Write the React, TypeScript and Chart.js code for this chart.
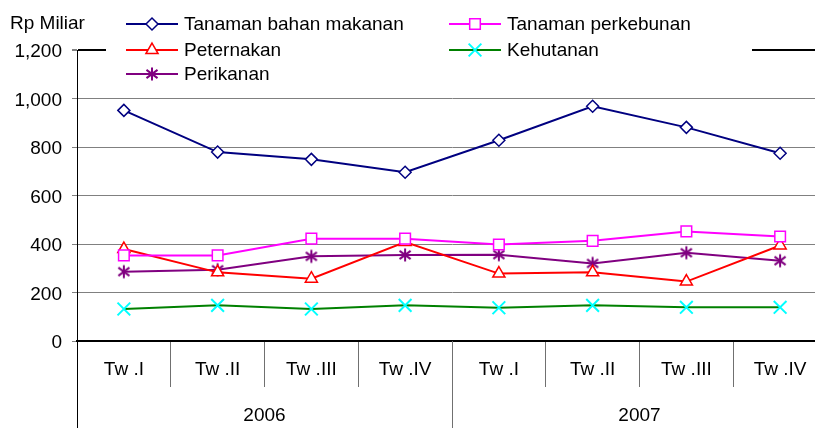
import React, { useEffect, useRef } from 'react';
import { Chart, registerables } from 'chart.js';
import { drawPoint } from 'chart.js/helpers';

Chart.register(...registerables);

// ---------- data ----------
const categories = ['Tw .I', 'Tw .II', 'Tw .III', 'Tw .IV', 'Tw .I', 'Tw .II', 'Tw .III', 'Tw .IV'];
const years = ['2006', '2007'];
const quartersPerYear = 4;
const yTitle = 'Rp Miliar';
const yMin = 0;
const yMax = 1200;
const yStep = 200;

const seriesNames = ['Tanaman bahan makanan', 'Tanaman perkebunan', 'Peternakan', 'Kehutanan', 'Perikanan'];
const tanamanBahanMakanan = [951, 779, 749, 696, 828, 968, 881, 774];
const tanamanPerkebunan = [353, 353, 422, 422, 398, 413, 452, 431];
const peternakan = [379, 283, 257, 408, 278, 283, 245, 394];
const kehutanan = [132, 147, 132, 147, 137, 147, 139, 139];
const perikanan = [286, 294, 349, 355, 356, 320, 364, 331];

const FONT = '"Liberation Sans", Arial, sans-serif';
const CANVAS_W = 838;

// asterisk marker (vertical stroke + X), like the spreadsheet "star" marker
function makeAsterisk(color: string): HTMLCanvasElement {
  const s = 16;
  const c = document.createElement('canvas');
  c.width = s;
  c.height = s;
  const g = c.getContext('2d')!;
  g.strokeStyle = color;
  g.lineWidth = 2;
  g.lineCap = 'butt';
  const m = s / 2;
  const r = 6.5;
  g.beginPath();
  g.moveTo(m, m - r);
  g.lineTo(m, m + r);
  const d = r * 0.85;
  g.moveTo(m - d, m - d * 0.75);
  g.lineTo(m + d, m + d * 0.75);
  g.moveTo(m + d, m - d * 0.75);
  g.lineTo(m - d, m + d * 0.75);
  g.stroke();
  return c;
}

const decorPlugin = {
  id: 'decor',
  afterDraw(chart: any) {
    const ctx = chart.ctx;
    const area = chart.chartArea;
    const xs = chart.scales.x;
    ctx.save();

    // y title
    ctx.fillStyle = '#000';
    ctx.font = `19px ${FONT}`;
    ctx.textBaseline = 'middle';
    ctx.textAlign = 'left';
    ctx.fillText(yTitle, 10, 24);

    // legend (white box over the top gridline)
    ctx.fillStyle = '#fff';
    ctx.fillRect(106, 0, 646, 88);
    const colX = [126, 449];
    const rowY = [24, 50, 74];
    chart.data.datasets.forEach((ds: any, i: number) => {
      const col = i % 2;
      const row = Math.floor(i / 2);
      const x0 = colX[col];
      const y = rowY[row];
      ctx.strokeStyle = ds.borderColor;
      ctx.lineWidth = ds.borderWidth;
      ctx.beginPath();
      ctx.moveTo(x0, y);
      ctx.lineTo(x0 + 52, y);
      ctx.stroke();
      ctx.strokeStyle = ds.pointBorderColor || ds.borderColor;
      ctx.fillStyle = '#fff';
      ctx.lineWidth = ds.pointBorderWidth;
      drawPoint(ctx, { pointStyle: ds.pointStyle, radius: ds.pointRadius, borderWidth: ds.pointBorderWidth, rotation: 0 }, x0 + 26, y);
      ctx.fillStyle = '#000';
      ctx.font = `19px ${FONT}`;
      ctx.textAlign = 'left';
      ctx.textBaseline = 'middle';
      ctx.fillText(ds.label, x0 + 58, y + 1);
    });

    // year grouping
    const bottom = chart.height;
    const bounds: number[] = [];
    for (let g = 0; g <= years.length; g++) {
      const idx = g * quartersPerYear;
      let px: number;
      if (idx === 0) px = area.left;
      else if (idx >= categories.length) px = area.right;
      else px = (xs.getPixelForValue(idx - 1) + xs.getPixelForValue(idx)) / 2;
      bounds.push(px);
    }
    bounds.forEach((px, g) => {
      ctx.strokeStyle = g === 0 ? '#000' : '#707070';
      ctx.lineWidth = 1;
      ctx.beginPath();
      const x = Math.round(px) + 0.5;
      ctx.moveTo(x, area.bottom);
      ctx.lineTo(x, bottom);
      ctx.stroke();
    });
    ctx.fillStyle = '#000';
    ctx.font = `19px ${FONT}`;
    ctx.textAlign = 'center';
    ctx.textBaseline = 'middle';
    years.forEach((yr, g) => {
      ctx.fillText(yr, (bounds[g] + bounds[g + 1]) / 2, 416);
    });
    ctx.restore();
  },
};

export default function App() {
  const ref = useRef<HTMLCanvasElement | null>(null);
  useEffect(() => {
    document.body.style.margin = '0';
    document.body.style.overflow = 'hidden';
    const canvas = ref.current!;
    const mk = (label: string, data: number[], color: string, style: any, radius: number, pointColor?: string, pbw = 1.5) => ({
      label,
      data,
      borderColor: color,
      backgroundColor: '#fff',
      pointBorderColor: pointColor || color,
      pointBackgroundColor: '#fff',
      pointStyle: style,
      pointRadius: radius,
      pointBorderWidth: pbw,
      borderWidth: 2,
      tension: 0,
      fill: false,
    });
    const chart = new Chart(canvas, {
      type: 'line',
      data: {
        labels: categories,
        datasets: [
          mk(seriesNames[0], tanamanBahanMakanan, '#000080', 'rectRot', 6),
          mk(seriesNames[1], tanamanPerkebunan, '#FF00FF', 'rect', 7.5),
          mk(seriesNames[2], peternakan, '#FF0000', 'triangle', 7),
          mk(seriesNames[3], kehutanan, '#008000', 'crossRot', 9, '#00FFFF', 2),
          mk(seriesNames[4], perikanan, '#800080', makeAsterisk('#800080'), 7, undefined, 2),
        ] as any,
      },
      options: {
        responsive: false,
        animation: false,
        layout: { padding: { top: 50, left: 0, right: 0, bottom: 0 } },
        plugins: { legend: { display: false }, tooltip: { enabled: false } },
        scales: {
          x: {
            type: 'category',
            offset: true,
            grid: { offset: true, drawOnChartArea: false, tickLength: 46, color: '#707070', lineWidth: 1 },
            border: { color: '#000', width: 2 },
            ticks: { color: '#000', font: { size: 19, family: FONT }, padding: -29, maxRotation: 0, autoSkip: false },
            afterFit: (s: any) => { s.height = 87; },
          },
          y: {
            min: yMin,
            max: yMax,
            ticks: { stepSize: yStep, color: '#000', font: { size: 19, family: FONT }, padding: 10, labelOffset: 2 },
            grid: {
              color: (c: any) => (c.tick && c.tick.value === yMax ? '#000' : '#808080'),
              lineWidth: (c: any) => (c.tick && c.tick.value === yMax ? 2 : 1),
              tickLength: 5,
              tickColor: '#808080',
            },
            border: { color: '#000', width: 1 },
            afterFit: (s: any) => { s.width = 77; },
          },
        },
      } as any,
      plugins: [decorPlugin],
    });
    return () => chart.destroy();
  }, []);
  return (
    <div style={{ position: 'fixed', left: 0, top: 0, width: CANVAS_W, height: 428, background: '#fff' }}>
      <canvas ref={ref} width={CANVAS_W} height={428} />
    </div>
  );
}
